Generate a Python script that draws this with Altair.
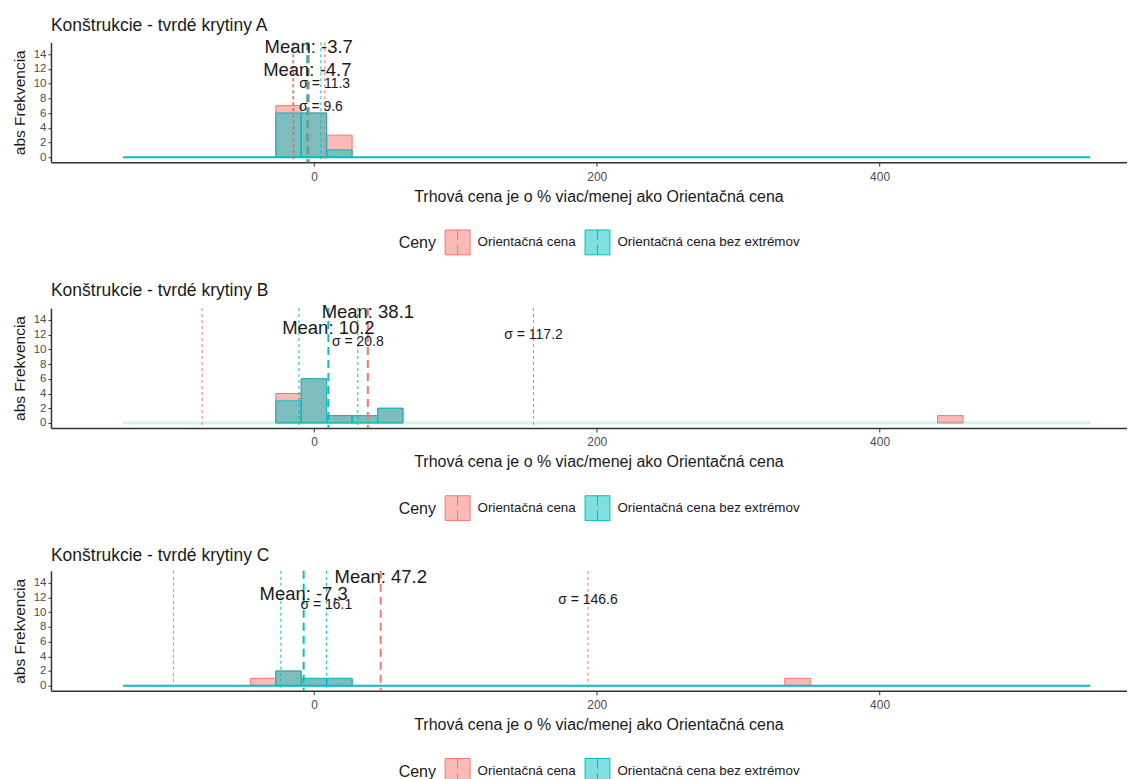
import altair as alt
import pandas as pd

# ---------------- data ----------------
TITLES = [
    "Konštrukcie - tvrdé krytiny A",
    "Konštrukcie - tvrdé krytiny B",
    "Konštrukcie - tvrdé krytiny C",
]
GROUPS = ["Orientačná cena", "Orientačná cena bez extrémov"]
X_TITLE = "Trhová cena je o % viac/menej ako Orientačná cena"
Y_TITLE = "abs Frekvencia"
LEGEND_TITLE = "Ceny"
X_TICKS = [0, 200, 400]
Y_TICKS = [0, 2, 4, 6, 8, 10, 12, 14]
BIN_WIDTH = 18

# histogram bins: left edges and counts, per panel (A, B, C)
RED_BIN_STARTS = [[-27, -9, 9], [-27, -9, 9, 27, 45, 441], [-45, -27, -9, 9, 333]]
RED_COUNTS = [[7, 6, 3], [4, 6, 1, 1, 2, 1], [1, 2, 1, 1, 1]]
TEAL_BIN_STARTS = [[-27, -9, 9], [-27, -9, 9, 27, 45], [-27, -9, 9]]
TEAL_COUNTS = [[6, 6, 1], [3, 6, 1, 1, 2], [2, 1, 1]]
EMPTY_BINS_FROM = [-135, -135, -135]
EMPTY_BINS_TO = [549, 549, 549]

RED_MEAN = [-3.7, 38.1, 47.2]
RED_SD = [11.3, 117.2, 146.6]
TEAL_MEAN = [-4.7, 10.2, -7.3]
TEAL_SD = [9.6, 20.8, 16.1]

RED_MEAN_LABEL_Y = [14.9, 15.0, 14.7]
TEAL_MEAN_LABEL_Y = [11.9, 12.9, 12.5]
RED_SD_LABEL_Y = [9.9, 11.9, 11.7]
TEAL_SD_LABEL_Y = [6.8, 11.0, 10.9]

# ---------------- styling ----------------
FONT = "Liberation Sans"
FILL_RANGE = ["rgba(248,118,109,0.5)", "rgba(0,191,196,0.5)"]
STROKE_RANGE = ["#F8766D", "#00BFC4"]
BASELINE_OPACITY = [1.0, 0.18, 1.0]
BASELINE_WIDTH = [2, 3, 2]
X_DOMAIN = [-186, 575]
Y_DOMAIN = [-0.68, 15.6]
PLOT_W = 1077
PLOT_H = 120
SYMBOL = "M-1,-1H1V1H-1Z M0,-1V-0.2 M0,0.2V1"


def build_panel(i):
    rows = []
    for g, starts, counts in (
        (GROUPS[0], RED_BIN_STARTS[i], RED_COUNTS[i]),
        (GROUPS[1], TEAL_BIN_STARTS[i], TEAL_COUNTS[i]),
    ):
        for s, c in zip(starts, counts):
            rows.append({"grp": g, "x0": s, "x1": s + BIN_WIDTH, "n": c})
    bars_df = pd.DataFrame(rows)

    base_df = pd.DataFrame({"x0": [EMPTY_BINS_FROM[i]], "x1": [EMPTY_BINS_TO[i]], "n": [0]})
    means_df = pd.DataFrame({"grp": GROUPS, "x0": [RED_MEAN[i], TEAL_MEAN[i]]})
    sd_df = pd.DataFrame({
        "grp": [GROUPS[0], GROUPS[0], GROUPS[1], GROUPS[1]],
        "x0": [RED_MEAN[i] - RED_SD[i], RED_MEAN[i] + RED_SD[i],
               TEAL_MEAN[i] - TEAL_SD[i], TEAL_MEAN[i] + TEAL_SD[i]],
    })
    mean_lab = pd.DataFrame({
        "x0": [RED_MEAN[i], TEAL_MEAN[i]],
        "n": [RED_MEAN_LABEL_Y[i], TEAL_MEAN_LABEL_Y[i]],
        "t": [f"Mean: {RED_MEAN[i]}", f"Mean: {TEAL_MEAN[i]}"],
    })
    sd_lab = pd.DataFrame({
        "x0": [RED_MEAN[i] + RED_SD[i], TEAL_MEAN[i] + TEAL_SD[i]],
        "n": [RED_SD_LABEL_Y[i], TEAL_SD_LABEL_Y[i]],
        "t": [f"σ = {RED_SD[i]}", f"σ = {TEAL_SD[i]}"],
    })

    xs = alt.Scale(domain=X_DOMAIN, nice=False, zero=False)
    ys = alt.Scale(domain=Y_DOMAIN, nice=False, zero=False)
    x_axis = alt.Axis(values=X_TICKS, labelFontSize=12, titleFontSize=16,
                      tickSize=4, labelPadding=5, titlePadding=6, format="d",
                      titleX=548, titleAlign="center")
    y_axis = alt.Axis(values=Y_TICKS, labelFontSize=11.5, titleFontSize=15.5,
                      tickSize=3, labelPadding=2, titlePadding=6)
    X = lambda f: alt.X(f, scale=xs, axis=x_axis, title=X_TITLE)
    Y = lambda f: alt.Y(f, scale=ys, axis=y_axis, title=Y_TITLE)

    legend = alt.Legend(
        title=LEGEND_TITLE, orient="none", legendX=348, legendY=187,
        direction="horizontal", titleOrient="left", titleAnchor="middle",
        titleBaseline="middle", symbolType=SYMBOL, symbolSize=620,
        symbolStrokeWidth=1, titleFontSize=16, titleFontWeight="normal",
        labelFontSize=13.4, titleColor="#1a1a1a", labelColor="#1a1a1a",
        labelOffset=7, columnPadding=6, titlePadding=8, padding=0,
        labelLimit=0, titleFont=FONT, labelFont=FONT,
    )
    fill_enc = alt.Fill("grp:N", scale=alt.Scale(domain=GROUPS, range=FILL_RANGE), legend=legend)
    stroke_enc = alt.Stroke("grp:N", scale=alt.Scale(domain=GROUPS, range=STROKE_RANGE), legend=legend)
    stroke_nolegend = alt.Stroke("grp:N", scale=alt.Scale(domain=GROUPS, range=STROKE_RANGE), legend=None)

    bars = alt.Chart(bars_df).mark_rect(strokeWidth=1).encode(
        x=X("x0:Q"), x2="x1:Q", y=Y("n:Q"), y2=alt.datum(0),
        fill=fill_enc, stroke=stroke_enc,
    )
    baseline = alt.Chart(base_df).mark_rule(
        color="#00BFC4", strokeWidth=BASELINE_WIDTH[i], opacity=BASELINE_OPACITY[i]
    ).encode(x=X("x0:Q"), x2="x1:Q", y=Y("n:Q"))
    mean_rules = alt.Chart(means_df).mark_rule(strokeWidth=2, strokeDash=[8, 5]).encode(
        x=X("x0:Q"), stroke=stroke_nolegend,
    )
    sd_rules = alt.Chart(sd_df).mark_rule(strokeWidth=1, strokeDash=[3, 3]).encode(
        x=X("x0:Q"), stroke=stroke_nolegend,
    )
    mean_text = alt.Chart(mean_lab).mark_text(
        fontSize=18.5, font=FONT, color="#1a1a1a", align="center", baseline="middle"
    ).encode(x=X("x0:Q"), y=Y("n:Q"), text="t:N")
    sd_text = alt.Chart(sd_lab).mark_text(
        fontSize=14, font=FONT, color="#1a1a1a", align="center", baseline="middle"
    ).encode(x=X("x0:Q"), y=Y("n:Q"), text="t:N")

    return alt.layer(bars, baseline, sd_rules, mean_rules, mean_text, sd_text).properties(
        width=PLOT_W,
        height=PLOT_H,
        title=alt.TitleParams(TITLES[i], anchor="start", frame="group", fontSize=17.5,
                              fontWeight="normal", font=FONT, color="#1a1a1a", offset=4),
    )


chart = alt.vconcat(*[build_panel(i) for i in range(3)], spacing=24).resolve_scale(
    fill="independent", stroke="independent"
).resolve_legend(fill="independent", stroke="independent").properties(
    padding={"left": 4, "top": 8, "right": 0, "bottom": 0}
).configure_view(stroke=None).configure_axis(
    grid=False, domainColor="#333333", domainWidth=1.5, tickColor="#333333",
    labelColor="#4d4d4d", titleColor="#1a1a1a", titleFontWeight="normal",
    labelFont=FONT, titleFont=FONT,
)

chart.save("out.html", embed_options={"renderer": "svg", "actions": False})
